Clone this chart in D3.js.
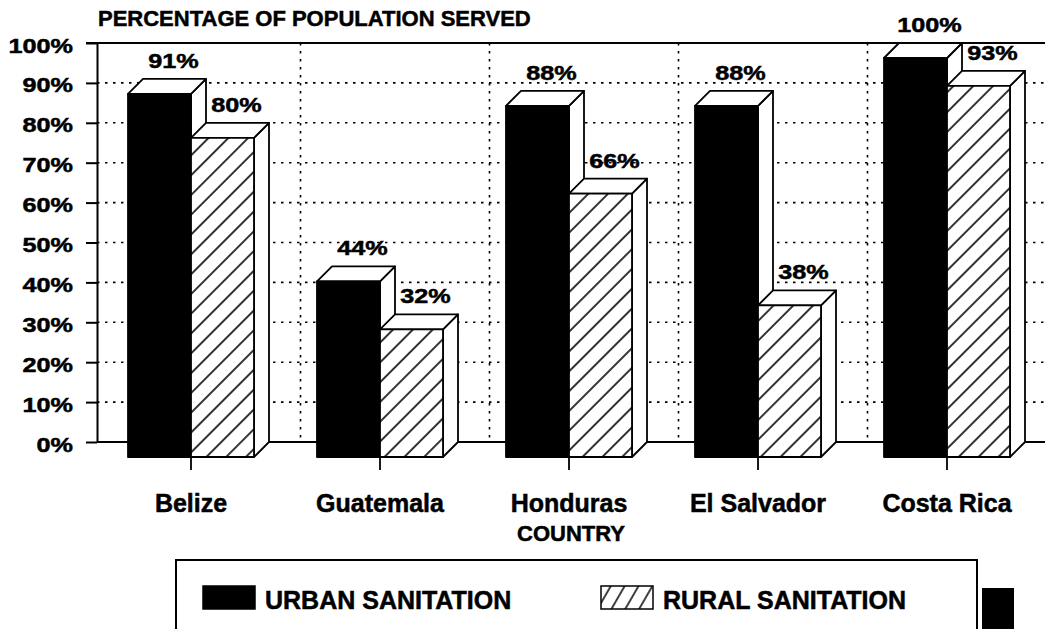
<!DOCTYPE html>
<html>
<head>
<meta charset="utf-8">
<script src="https://cdn.jsdelivr.net/npm/d3@7"></script>
<style>
  html, body { margin: 0; padding: 0; background: #fff; }
  svg { display: block; }
  text { font-family: "Liberation Sans", Arial, Helvetica, sans-serif; font-weight: bold; fill: #000;
         stroke: #000; stroke-width: 0.5px; }
</style>
</head>
<body>
<svg id="chart" width="1045" height="629"></svg>
<script>
// Sanitation coverage by country (percent of population served)
const categories = ["Belize", "Guatemala", "Honduras", "El Salvador", "Costa Rica"];
const urbanSanitation = [91, 44, 88, 88, 100];
const ruralSanitation = [80, 32, 66, 38, 93];
const yTickValues = [0, 10, 20, 30, 40, 50, 60, 70, 80, 90, 100];
const seriesLabels = ["URBAN SANITATION", "RURAL SANITATION"];
const valueTitle = "PERCENTAGE OF POPULATION SERVED";
const categoryTitle = "COUNTRY";

const width = 1045, height = 629;
const depth = 15;          // 3D offset of the back plane
const stretch = 1.2;       // horizontal stretch of the numeric labels

const svg = d3.select("#chart");

const y = d3.scaleLinear().domain([0, 100]).range([442, 43]);
const x = d3.scaleBand().domain(categories).range([96.5, 1041.5]);
const series = ["urban", "rural"];
const xs = d3.scaleBand().domain(series).range([0, 126]);
const groupOffset = (x.bandwidth() - xs.range()[1]) / 2;

// hatch patterns
const defs = svg.append("defs");
function hatch(id, size, angle, sw) {
  const p = defs.append("pattern")
    .attr("id", id)
    .attr("patternUnits", "userSpaceOnUse")
    .attr("width", size).attr("height", size)
    .attr("patternTransform", `rotate(${angle})`);
  p.append("rect").attr("width", size).attr("height", size).attr("fill", "#fff");
  p.append("line")
    .attr("x1", 0).attr("y1", size / 2).attr("x2", size).attr("y2", size / 2)
    .attr("stroke", "#000").attr("stroke-width", sw);
}
hatch("hatchBar", 14, -45, 1.6);
hatch("hatchKey", 12, -60, 1.5);

// grid: dotted horizontals on the back wall
const x0Plot = 97, xRight = width;
svg.append("g").selectAll("line")
  .data(yTickValues.filter(d => d > 0 && d < 100))
  .join("line")
  .attr("x1", x0Plot).attr("x2", xRight)
  .attr("y1", d => y(d)).attr("y2", d => y(d))
  .attr("stroke", "#000").attr("stroke-width", 1.6)
  .attr("stroke-dasharray", "2.5,5.5");

// dotted verticals between countries on the back wall
svg.append("g").selectAll("line")
  .data(categories.slice(1))
  .join("line")
  .attr("x1", d => x(d) + depth).attr("x2", d => x(d) + depth)
  .attr("y1", y(100)).attr("y2", y(0))
  .attr("stroke", "#000").attr("stroke-width", 1.6)
  .attr("stroke-dasharray", "2.5,5.5");

// top and floor lines
svg.append("line").attr("x1", 86).attr("x2", xRight).attr("y1", y(100)).attr("y2", y(100))
  .attr("stroke", "#000").attr("stroke-width", 2);
svg.append("line").attr("x1", x0Plot).attr("x2", xRight).attr("y1", y(0)).attr("y2", y(0))
  .attr("stroke", "#000").attr("stroke-width", 2);

// value axis
const yAxis = svg.append("g")
  .attr("transform", `translate(${x0Plot},0)`)
  .call(d3.axisLeft(y).tickValues(yTickValues).tickFormat(d => d + "%").tickSize(11).tickSizeOuter(0));
yAxis.attr("font-family", null).attr("font-size", null);
yAxis.selectAll("path.domain").attr("stroke", "#000").attr("stroke-width", 2);
yAxis.selectAll(".tick line").attr("stroke", "#000").attr("stroke-width", 2);
yAxis.selectAll(".tick text")
  .attr("x", null).attr("dy", null)
  .attr("transform", `translate(-24,9) scale(${stretch},1)`)
  .style("font-size", "21px");

// 3D bars
function drawBar(g, bx, w, v, fill) {
  const yTop = y(v), yBase = y(0);
  g.append("path")
    .attr("d", `M${bx + w},${yTop + depth}L${bx + w + depth},${yTop}L${bx + w + depth},${yBase}L${bx + w},${yBase + depth}Z`)
    .attr("fill", "#fff");
  g.append("path")
    .attr("d", `M${bx},${yTop + depth}L${bx + depth},${yTop}L${bx + w + depth},${yTop}L${bx + w},${yTop + depth}Z`)
    .attr("fill", "#fff");
  g.append("rect")
    .attr("x", bx).attr("y", yTop + depth)
    .attr("width", w).attr("height", yBase - yTop)
    .attr("fill", fill);
  g.selectAll("path, rect")
    .attr("stroke", "#000").attr("stroke-width", 1.8).attr("stroke-linejoin", "round");
  g.append("text")
    .attr("text-anchor", "middle")
    .attr("transform", `translate(${bx + w / 2 + depth - 1},${yTop - 11}) scale(${stretch},1)`)
    .style("font-size", "21px")
    .text(v + "%");
}

const barsLayer = svg.append("g");
categories.forEach((c, i) => {
  const vals = { urban: urbanSanitation[i], rural: ruralSanitation[i] };
  series.forEach(s => {
    const g = barsLayer.append("g");
    drawBar(g, x(c) + groupOffset + xs(s), xs.bandwidth(), vals[s],
            s === "urban" ? "#000" : "url(#hatchBar)");
  });
});

// category axis
const xAxis = svg.append("g")
  .attr("transform", `translate(0,${y(0) + depth})`)
  .call(d3.axisBottom(x).tickSize(13).tickPadding(24).tickSizeOuter(0));
xAxis.attr("font-family", null).attr("font-size", null);
xAxis.select("path.domain").remove();
xAxis.selectAll(".tick line").attr("stroke", "#000").attr("stroke-width", 1.8);
xAxis.selectAll(".tick text").style("font-size", "25px");

// titles
svg.append("text")
  .attr("x", 98).attr("y", 26)
  .style("font-size", "22px")
  .text(valueTitle);
svg.append("text")
  .attr("x", x("Honduras") + x.bandwidth() / 2 + 2).attr("y", 541)
  .attr("text-anchor", "middle")
  .style("font-size", "22px")
  .text(categoryTitle);

// legend with drop shadow
const lx = 176, ly = 560, lw = 801, lh = 100;
svg.append("rect")
  .attr("x", lx + lw + 5).attr("y", ly + 28)
  .attr("width", 32).attr("height", lh)
  .attr("fill", "#000");
svg.append("rect")
  .attr("x", lx).attr("y", ly).attr("width", lw).attr("height", lh)
  .attr("fill", "#fff").attr("stroke", "#000").attr("stroke-width", 2);

const keyFills = ["#000", "url(#hatchKey)"];
const keyX = [203, 601];
seriesLabels.forEach((label, i) => {
  svg.append("rect")
    .attr("x", keyX[i]).attr("y", 586)
    .attr("width", 52).attr("height", 23)
    .attr("fill", keyFills[i])
    .attr("stroke", "#000").attr("stroke-width", 1.5);
  svg.append("text")
    .attr("x", keyX[i] + 62).attr("y", 609)
    .style("font-size", "25px")
    .text(label);
});
</script>
</body>
</html>
